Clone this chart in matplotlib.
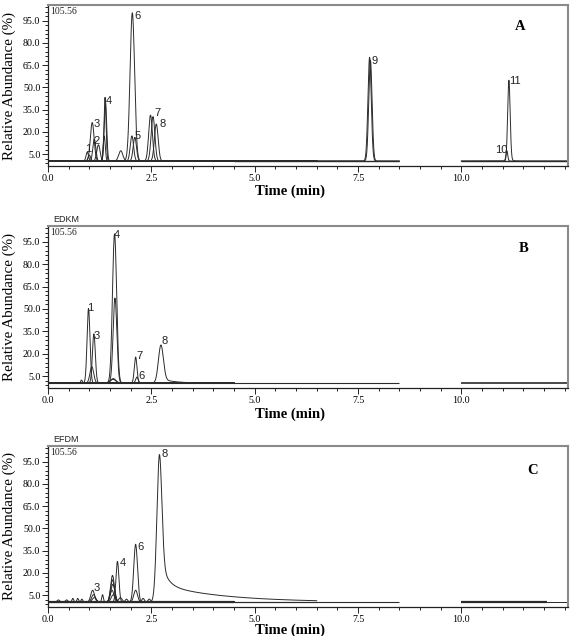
import math
import numpy as np
import matplotlib
matplotlib.use("Agg")
import matplotlib.pyplot as plt
from matplotlib.ticker import FixedLocator, MultipleLocator

# ---------------- data ----------------
y_ticks = [5.0, 20.0, 35.0, 50.0, 65.0, 80.0, 95.0]
y_tick_labels = ["5.0", "20.0", "35.0", "50.0", "65.0", "80.0", "95.0"]
x_ticks = [0.0, 2.5, 5.0, 7.5, 10.0]
x_tick_labels = ["0.0", "2.5", "5.0", "7.5", "10.0"]
x_max = 12.58
y_max = 105.56
baseline = 0.3

# Panel A (standards): acquisition segments, then peaks (each peak = one trace)
A_seg_start = [0.0, 4.5, 10.0]
A_seg_end = [6.5, 8.5, 12.58]
A_peak_seg = [0, 0, 0, 0, 0, 0, 0, 0, 0, 0, 0, 0, 0, 0, 0, 1, 1, 2, 2]
A_peak_rt = [0.95, 1.00, 1.07, 1.12, 1.22, 1.36, 1.38, 1.39, 1.76, 2.04, 2.03, 2.10, 2.48, 2.54, 2.62, 7.78, 7.80, 11.10, 11.15]
A_peak_height = [6, 4, 26, 15, 11, 17, 43, 40, 7, 100, 17, 16, 31, 30, 25, 70, 68, 7, 53]
A_peak_sigma = [0.03, 0.03, 0.045, 0.035, 0.04, 0.025, 0.025, 0.03, 0.05, 0.055, 0.04, 0.04, 0.045, 0.045, 0.045, 0.04, 0.04, 0.022, 0.03]
A_peak_tail = [0, 0, 0, 0, 0, 0, 0, 0, 0, 0, 0, 0, 0, 0, 0, 0, 0, 0, 3]
A_peak_tau = [1, 1, 1, 1, 1, 1, 1, 1, 1, 1, 1, 1, 1, 1, 1, 1, 1, 1, 0.05]
A_peak_tail2 = [0] * 19
A_peak_tau2 = [1] * 19
A_label_text = ["1", "2", "3", "4", "5", "6", "7", "8", "9", "10", "11"]
A_label_t = [0.97, 1.18, 1.18, 1.48, 2.17, 2.17, 2.64, 2.77, 7.91, 10.96, 11.30]
A_label_v = [8.4, 13.7, 25.1, 40.7, 17.3, 98.4, 32.5, 25.1, 68.0, 7.9, 54.1]

# Panel B (EDKM)
B_seg_start = [0.0, 0.0, 10.0]
B_seg_end = [4.5, 8.5, 12.58]
B_peak_seg = [0, 0, 0, 0, 0, 0, 0, 0, 0, 0, 0]
B_peak_rt = [0.81, 0.98, 1.06, 1.11, 1.58, 1.57, 1.61, 1.62, 2.12, 2.15, 2.73]
B_peak_height = [2, 50, 11, 33, 3, 2.5, 100, 57, 17.5, 4, 24]
B_peak_sigma = [0.02, 0.035, 0.045, 0.035, 0.06, 0.07, 0.05, 0.045, 0.032, 0.03, 0.06]
B_peak_tail = [0, 0, 0, 0, 0, 0, 0, 0, 0, 0, 3]
B_peak_tau = [1, 1, 1, 1, 1, 1, 1, 1, 1, 1, 0.3]
B_peak_tail2 = [0] * 11
B_peak_tau2 = [1] * 11
B_label_text = ["1", "3", "4", "7", "6", "8"]
B_label_t = [1.03, 1.17, 1.67, 2.21, 2.26, 2.82]
B_label_v = [50.7, 32.0, 99.5, 18.5, 5.0, 28.2]

# Panel C (EFDM)
C_seg_start = [0.0, 0.0, 4.5, 10.0, 10.0]
C_seg_end = [4.5, 6.5, 8.5, 12.07, 12.58]
C_peak_seg = [1, 0, 0, 0, 0, 0, 0, 0, 0, 0, 0, 0, 0, 0, 0, 0, 0, 0, 0, 0, 0, 0]
C_peak_rt = [2.69, 2.12, 2.12, 1.68, 1.56, 1.56, 1.57, 1.55, 1.58, 1.08, 1.10, 1.12, 1.32,
             0.60, 0.72, 0.82, 0.25, 1.90, 2.30, 2.45, 1.75, 0.45]
C_peak_height = [82, 39, 8, 27.5, 18, 15, 12, 8, 5, 8, 5, 3, 5,
                 2.5, 2.5, 2.0, 1.5, 2.0, 2.5, 2.0, 3.0, 1.5]
C_peak_sigma = [0.06, 0.045, 0.045, 0.035, 0.045, 0.045, 0.05, 0.045, 0.05, 0.045, 0.045, 0.05, 0.02,
                0.02, 0.02, 0.02, 0.03, 0.03, 0.03, 0.03, 0.04, 0.03]
C_peak_tail = [22] + [0] * 21
C_peak_tau = [0.15] + [1] * 21
C_peak_tail2 = [12] + [0] * 21
C_peak_tau2 = [1.5] + [1] * 21
C_label_text = ["3", "4", "6", "8"]
C_label_t = [1.18, 1.82, 2.24, 2.81]
C_label_v = [9.5, 26.7, 37.4, 100.0]

# ---------------- drawing ----------------
erf = np.vectorize(math.erf)


def peak_curve(t, rt, h, s, tails):
    y = h * np.exp(-0.5 * ((t - rt) / s) ** 2)
    step = 0.5 * (1 + erf((t - rt) / (s * np.sqrt(2))))
    for amp, tau in tails:
        if amp > 0:
            y = y + amp * np.exp(-np.clip(t - rt, 0, None) / tau) * step
    return y


W, H = 570, 636
fig = plt.figure(figsize=(W / 100, H / 100), dpi=100)

SERIF = ["Liberation Serif", "DejaVu Serif"]
SANS = ["Liberation Sans", "DejaVu Sans"]
LC = "#2b2b2b"

panels = [
    dict(top=5, bottom=166, seg_s=A_seg_start, seg_e=A_seg_end, pseg=A_peak_seg, rt=A_peak_rt,
         h=A_peak_height, s=A_peak_sigma, tail=A_peak_tail, tau=A_peak_tau,
         tail2=A_peak_tail2, tau2=A_peak_tau2,
         lt=A_label_text, lx=A_label_t, lv=A_label_v, letter="A", letter_xy=(520, 27),
         title=None, xlab_y=191, seg_lw=[1.2, 1.0, 1.0]),
    dict(top=226, bottom=388, seg_s=B_seg_start, seg_e=B_seg_end, pseg=B_peak_seg, rt=B_peak_rt,
         h=B_peak_height, s=B_peak_sigma, tail=B_peak_tail, tau=B_peak_tau,
         tail2=B_peak_tail2, tau2=B_peak_tau2,
         lt=B_label_text, lx=B_label_t, lv=B_label_v, letter="B", letter_xy=(524, 248),
         title="EDKM", xlab_y=414, seg_lw=[1.4, 0.8, 1.2]),
    dict(top=446, bottom=607, seg_s=C_seg_start, seg_e=C_seg_end, pseg=C_peak_seg, rt=C_peak_rt,
         h=C_peak_height, s=C_peak_sigma, tail=C_peak_tail, tau=C_peak_tau,
         tail2=C_peak_tail2, tau2=C_peak_tau2,
         lt=C_label_text, lx=C_label_t, lv=C_label_v, letter="C", letter_xy=(533, 470),
         title="EFDM", xlab_y=630, seg_lw=[1.6, 0.8, 0.8, 1.6, 0.7]),
]

L, R = 48, 568
for p in panels:
    ax = fig.add_axes([L / W, 1 - p["bottom"] / H, (R - L) / W, (p["bottom"] - p["top"]) / H])
    ax.set_xlim(0, x_max)
    ax.set_ylim(-3.0, y_max)

    for i, (a, b) in enumerate(zip(p["seg_s"], p["seg_e"])):
        ax.plot([a, b], [baseline, baseline], color=LC, lw=p["seg_lw"][i], solid_capstyle="butt")
    for k in range(len(p["rt"])):
        sg = p["pseg"][k]
        t = np.linspace(p["seg_s"][sg], p["seg_e"][sg], 4000)
        y = baseline + peak_curve(t, p["rt"][k], p["h"][k], p["s"][k],
                                  [(p["tail"][k], p["tau"][k]), (p["tail2"][k], p["tau2"][k])])
        ax.plot(t, y, color=LC, lw=0.7)

    for txt, tx, tv in zip(p["lt"], p["lx"], p["lv"]):
        ax.text(tx, tv, txt, fontsize=8, family=SANS, ha="center", va="center", color="#222222")

    ax.text(0.004, 0.99, "105.56", transform=ax.transAxes, fontsize=7, family=SERIF,
            ha="left", va="top", color="#222222")
    if p["title"]:
        ax.text(0.01, 1.015, p["title"], transform=ax.transAxes, fontsize=6.5, family=SANS,
                ha="left", va="bottom", color="#222222")
    lx, ly = p["letter_xy"]
    fig.text(lx / W, 1 - ly / H, p["letter"], fontsize=10.5, family=SERIF, fontweight="bold",
             ha="center", va="center")

    ax.yaxis.set_major_locator(FixedLocator(y_ticks))
    ax.set_yticklabels(y_tick_labels)
    ax.yaxis.set_minor_locator(MultipleLocator(3.0, offset=2.0))
    ax.xaxis.set_major_locator(FixedLocator(x_ticks))
    ax.set_xticklabels(x_tick_labels)
    ax.xaxis.set_minor_locator(MultipleLocator(0.5))
    ax.tick_params(which="both", direction="out", width=0.7, color="#222222")
    ax.tick_params(which="major", length=4, pad=1.5, labelsize=7.2)
    ax.tick_params(which="minor", length=2.5)
    for lab in ax.get_xticklabels() + ax.get_yticklabels():
        lab.set_family(SERIF)

    for side in ("top", "right"):
        ax.spines[side].set_color("#8a8a8a")
        ax.spines[side].set_linewidth(1.5)
    for side in ("left", "bottom"):
        ax.spines[side].set_color("#222222")
        ax.spines[side].set_linewidth(0.9)

    fig.text(9 / W, 1 - ((p["top"] + p["bottom"]) / 2) / H, "Relative Abundance (%)",
             rotation=90, fontsize=10.8, family=SERIF, ha="center", va="center")
    fig.text(290 / W, 1 - p["xlab_y"] / H, "Time (min)", fontsize=10.5, family=SERIF,
             fontweight="bold", ha="center", va="center")

fig.savefig("out.png", dpi=100)
